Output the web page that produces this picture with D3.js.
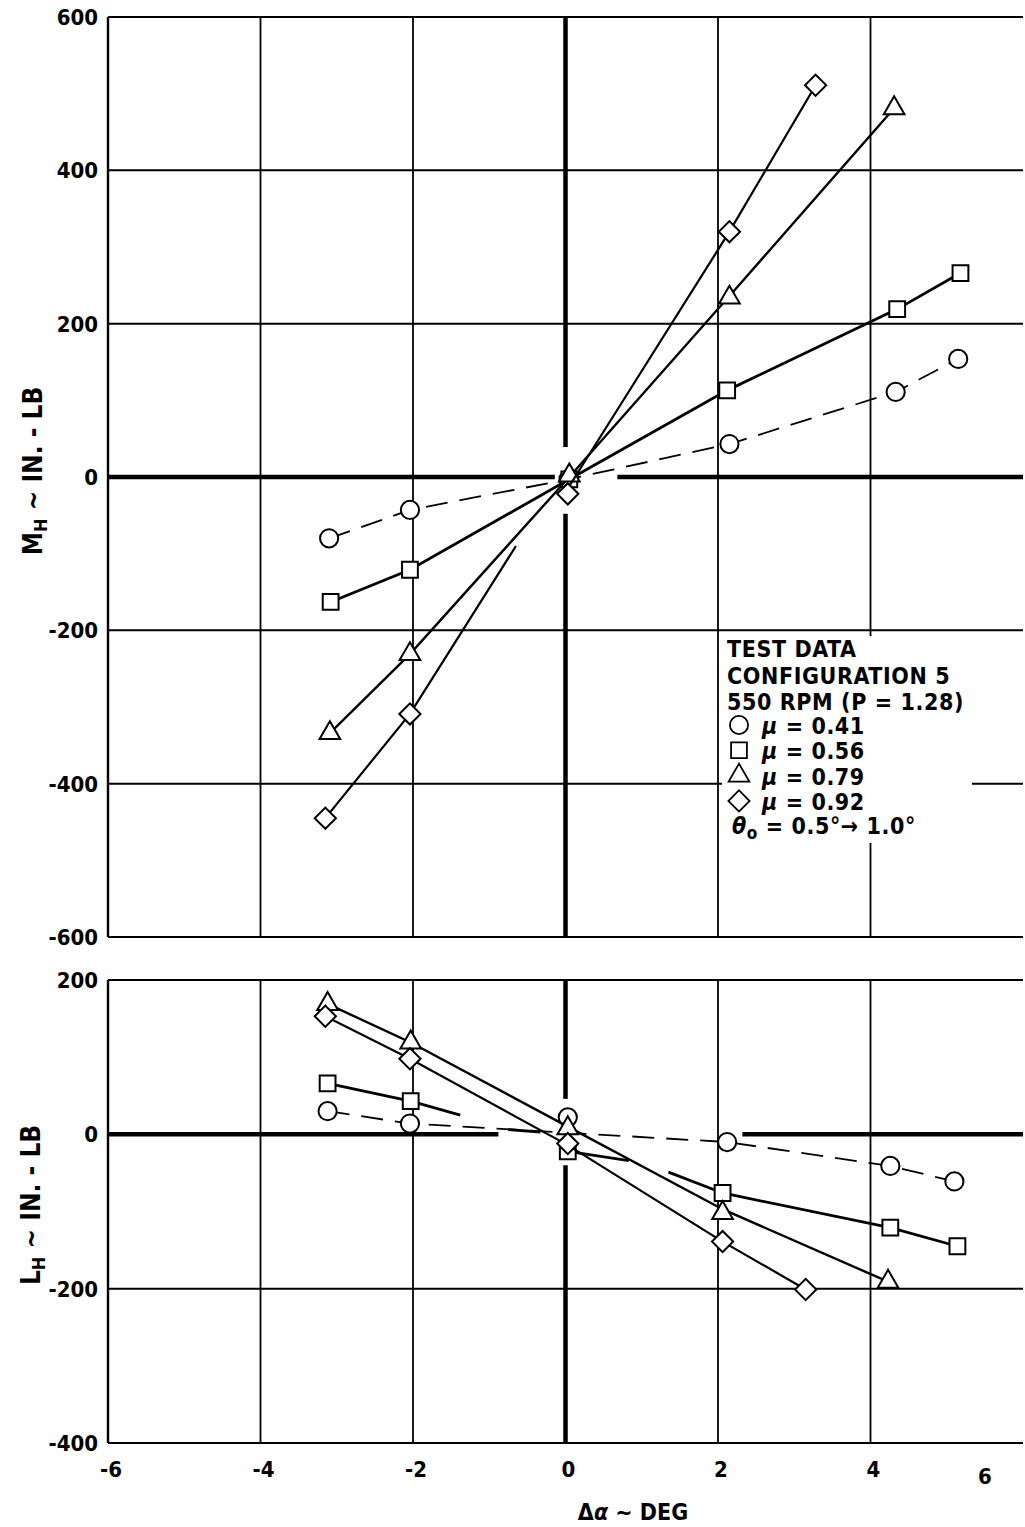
<!DOCTYPE html>
<html>
<head>
<meta charset="utf-8">
<script src="https://cdn.jsdelivr.net/npm/d3@7"></script>
<style>
  body { margin: 0; background: #fff; }
  text { font-family: "DejaVu Sans Condensed", "DejaVu Sans", sans-serif; font-weight: bold; fill: #000; }
</style>
</head>
<body>
<svg width="1025" height="1527"></svg>
<script>
// tick values
var xTicks = [-6, -4, -2, 0, 2, 4, 6];
var mhTicks = [-600, -400, -200, 0, 200, 400, 600];
var lhTicks = [-400, -200, 0, 200];

// top panel, M_H (in.-lb) vs delta alpha (deg)
var mhCircle   = [[-3.1, -80], [-2.04, -43], [0.04, -3], [2.15, 43], [4.33, 111], [5.15, 154]];
var mhSquare   = [[-3.08, -163], [-2.04, -121], [0.05, -3], [2.12, 113], [4.35, 219], [5.18, 266]];
var mhTriangle = [[-3.09, -334], [-2.04, -231], [0.05, 2], [2.15, 234], [4.31, 481]];
var mhDiamond  = [[-3.15, -445], [-2.04, -309], [0.03, -22], [2.15, 320], [3.28, 511]];

// faired lines (pieces)
var mhCircleLine   = [[[-3.1, -80], [-2.04, -43], [0.04, -3], [2.15, 43], [4.33, 111], [5.15, 154]]];
var mhSquareLine   = [[[-3.08, -163], [-2.04, -121], [0.05, -3], [2.12, 113], [4.35, 219], [5.18, 266]]];
var mhTriangleLine = [[[-3.09, -334], [-2.04, -231], [0.05, 0], [2.15, 236], [4.31, 481]]];
var mhDiamondLine  = [[[-3.15, -445], [-2.04, -309], [-0.65, -90]], [[0.03, -15], [2.15, 320], [3.28, 511]]];

// bottom panel, L_H (in.-lb)
var lhCircle   = [[-3.12, 30], [-2.04, 14], [0.03, 22], [2.12, -10], [4.26, -41], [5.1, -61]];
var lhSquare   = [[-3.12, 66], [-2.03, 43], [0.03, -22], [2.06, -76], [4.26, -121], [5.14, -145]];
var lhTriangle = [[-3.12, 169], [-2.03, 119], [0.03, 8], [2.06, -102], [4.23, -191]];
var lhDiamond  = [[-3.15, 153], [-2.04, 98], [0.03, -12], [2.06, -139], [3.15, -201]];

var lhCircleLine   = [[[-3.12, 30], [-2.04, 14], [2.12, -10], [4.26, -41], [5.1, -61]]];
var lhSquareLine   = [[[-3.12, 66], [-2.03, 43], [-1.38, 25]], [[-0.75, 6], [-0.33, 3]],
                      [[0.03, -22], [0.83, -34]], [[1.35, -49], [2.06, -76], [4.26, -121], [5.14, -145]]];
var lhTriangleLine = [[[-3.12, 169], [-2.03, 119], [0.03, 10], [2.06, -97], [4.23, -191]]];
var lhDiamondLine  = [[[-3.15, 153], [-2.04, 98], [0.03, -14], [2.06, -139], [3.15, -201]]];

// legend
var legendHead = ["TEST DATA", "CONFIGURATION 5", "550 RPM (P = 1.28)"];
var legendMu = ["0.41", "0.56", "0.79", "0.92"];
var legendShapes = ["circle", "square", "triangle", "diamond"];

var svg = d3.select("svg");

var x = d3.scaleLinear().domain([-6, 6]).range([108, 1023]);
var yTop = d3.scaleLinear().domain([-600, 600]).range([937, 17]);
var yBot = d3.scaleLinear().domain([-400, 200]).range([1443, 980]);

var shapes = {
  circle:   d3.symbol().type(d3.symbolCircle).size(260),
  square:   d3.symbol().type(d3.symbolSquare).size(250),
  triangle: d3.symbol().type(d3.symbolTriangle).size(185),
  diamond:  d3.symbol().type(d3.symbolSquare).size(225)
};

function grid(g, y, yTicks, zeroH, zeroV) {
  // thin grid
  g.selectAll(".gx").data(xTicks.filter(function(d){ return d !== 0 && d !== -6 && d !== 6; }))
    .enter().append("line")
      .attr("x1", function(d){ return x(d); }).attr("x2", function(d){ return x(d); })
      .attr("y1", y.range()[1]).attr("y2", y.range()[0])
      .attr("stroke", "#000").attr("stroke-width", 1.8);
  g.selectAll(".gy").data(yTicks.filter(function(d){ return d !== 0; }))
    .enter().append("line")
      .attr("x1", x(-6)).attr("x2", x(6))
      .attr("y1", function(d){ return y(d); }).attr("y2", function(d){ return y(d); })
      .attr("stroke", "#000").attr("stroke-width", 2);
  // left frame
  g.append("line").attr("x1", x(-6)).attr("x2", x(-6))
    .attr("y1", y.range()[1]).attr("y2", y.range()[0])
    .attr("stroke", "#000").attr("stroke-width", 2.4);
  // heavy zero lines, broken near the data
  zeroH.forEach(function(s){
    g.append("line").attr("x1", x(s[0])).attr("x2", x(s[1]))
      .attr("y1", y(0)).attr("y2", y(0))
      .attr("stroke", "#000").attr("stroke-width", 4.5);
  });
  zeroV.forEach(function(s){
    g.append("line").attr("x1", x(0)).attr("x2", x(0))
      .attr("y1", y(s[0])).attr("y2", y(s[1]))
      .attr("stroke", "#000").attr("stroke-width", 4.5);
  });
  // y tick labels
  g.selectAll(".yl").data(yTicks).enter().append("text")
    .attr("x", 98).attr("y", function(d){ return y(d) + 8; })
    .attr("text-anchor", "end").attr("font-size", 22)
    .text(function(d){ return d; });
}

function series(g, y, lines, pts, shape, dashed, w) {
  var line = d3.line().x(function(d){ return x(d[0]); }).y(function(d){ return y(d[1]); });
  g.selectAll(null).data(lines).enter().append("path")
    .attr("d", line).attr("fill", "none").attr("stroke", "#000")
    .attr("stroke-width", w)
    .attr("stroke-dasharray", dashed ? "22,12" : null);
  g.selectAll(null).data(pts).enter().append("path")
    .attr("d", shapes[shape]())
    .attr("transform", function(d){
      return "translate(" + x(d[0]) + "," + y(d[1]) + ")" + (shape === "diamond" ? " rotate(45)" : "");
    })
    .attr("fill", "#fff").attr("stroke", "#000").attr("stroke-width", 2);
}

// top panel
var topG = svg.append("g");
grid(topG, yTop, mhTicks, [[-6, -0.14], [0.68, 6]], [[600, 39], [-48, -600]]);
// legend area clears the grid
topG.append("rect").attr("x", 722).attr("y", 636).attr("width", 250).attr("height", 207).attr("fill", "#fff");
series(topG, yTop, mhCircleLine, mhCircle, "circle", true, 1.8);
series(topG, yTop, mhSquareLine, mhSquare, "square", false, 2.8);
series(topG, yTop, mhTriangleLine, mhTriangle, "triangle", false, 2.4);
series(topG, yTop, mhDiamondLine, mhDiamond, "diamond", false, 2.2);

// bottom panel
var botG = svg.append("g");
grid(botG, yBot, lhTicks, [[-6, -0.88], [2.32, 6]], [[200, 46], [-40, -400]]);
series(botG, yBot, lhCircleLine, lhCircle, "circle", true, 1.8);
series(botG, yBot, lhSquareLine, lhSquare, "square", false, 2.8);
series(botG, yBot, lhTriangleLine, lhTriangle, "triangle", false, 2.4);
series(botG, yBot, lhDiamondLine, lhDiamond, "diamond", false, 2.2);

// x tick labels
svg.selectAll(".xl").data(xTicks).enter().append("text")
  .attr("x", function(d){ return d === 6 ? x(d) - 38 : x(d) + 3; })
  .attr("y", function(d){ return d === 6 ? 1484 : 1477; })
  .attr("text-anchor", "middle").attr("font-size", 22)
  .text(function(d){ return d; });

// axis titles
var t1 = svg.append("text").attr("transform", "translate(42,471) rotate(-90)")
  .attr("text-anchor", "middle").attr("font-size", 26);
t1.append("tspan").text("M");
t1.append("tspan").attr("baseline-shift", "-30%").attr("font-size", 18).text("H");
t1.append("tspan").text(" ~ IN. - LB");

var t2 = svg.append("text").attr("transform", "translate(40,1205) rotate(-90)")
  .attr("text-anchor", "middle").attr("font-size", 26);
t2.append("tspan").text("L");
t2.append("tspan").attr("baseline-shift", "-30%").attr("font-size", 18).text("H");
t2.append("tspan").text(" ~ IN. - LB");

var t3 = svg.append("text").attr("x", 633).attr("y", 1520)
  .attr("text-anchor", "middle").attr("font-size", 23);
t3.append("tspan").text("\u0394");
t3.append("tspan").attr("font-style", "italic").text("\u03b1");
t3.append("tspan").text(" ~ DEG");

// legend
var lg = svg.append("g");
lg.selectAll(".lh").data(legendHead).enter().append("text")
  .attr("x", 727).attr("y", function(d, i){ return 657 + i * 26.5; })
  .attr("font-size", 23).attr("letter-spacing", 0.6).text(function(d){ return d; });
legendMu.forEach(function(m, i){
  var yy = 734 + i * 25.3;
  lg.append("path").attr("d", shapes[legendShapes[i]]())
    .attr("transform", "translate(739," + (yy - 9) + ")" + (legendShapes[i] === "diamond" ? " rotate(45)" : ""))
    .attr("fill", "#fff").attr("stroke", "#000").attr("stroke-width", 1.8);
  var t = lg.append("text").attr("x", 762).attr("y", yy).attr("font-size", 23).attr("letter-spacing", 0.6);
  t.append("tspan").attr("font-style", "italic").text("\u03bc");
  t.append("tspan").text(" = " + m);
});
var th = lg.append("text").attr("x", 732).attr("y", 834).attr("font-size", 23).attr("letter-spacing", 0.6);
th.append("tspan").attr("font-style", "italic").text("\u03b8");
th.append("tspan").attr("baseline-shift", "-30%").attr("font-size", 17).text("o");
th.append("tspan").text(" = 0.5\u00b0\u2192 1.0\u00b0");
</script>
</body>
</html>
